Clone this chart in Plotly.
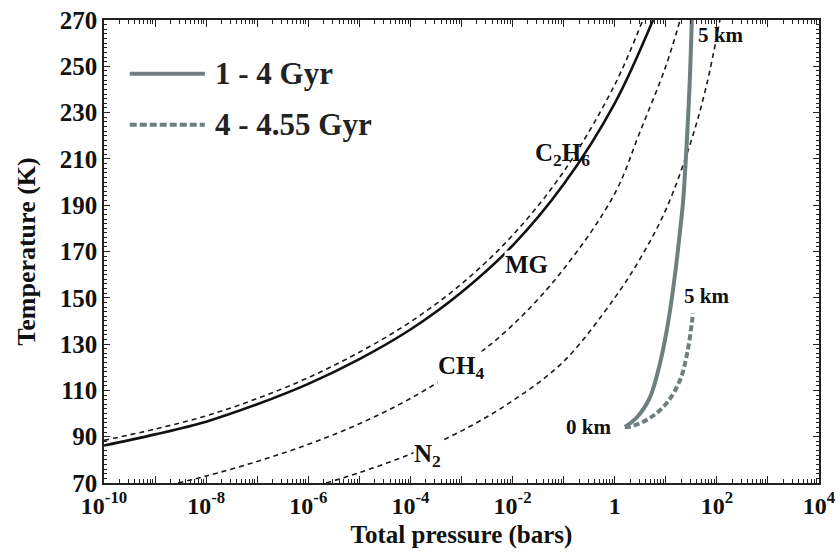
import plotly.graph_objects as go

# ---- data (log10 pressure in bars, temperature in K) ----
mg_logp = [-10, -9, -8, -7, -6, -5, -4, -3, -2, -1, 0, 0.75]
mg_T = [86.2, 91, 96.5, 104, 112.8, 123.5, 136.3, 152.4, 172.5, 199, 234, 270]

c2h6_logp = [-10, -9, -8, -7, -6, -5, -4, -3, -2, -1, 0, 0.55]
c2h6_T = [88.4, 93.3, 99, 106.5, 115.5, 126.5, 139.6, 156, 177, 204.5, 242, 270]

ch4_logp = [-8.55, -8, -7, -6, -5, -4, -3, -2, -1, 0, 0.5, 1.0, 1.28]
ch4_T = [70, 73, 79.3, 86.7, 95.6, 106.5, 120.3, 138.2, 162.4, 195, 222, 250, 270]

n2_logp = [-5.65, -5, -4, -3, -2, -1, 0, 0.5, 1.0, 1.5, 1.8, 2.06]
n2_T = [70, 74.5, 82.5, 92.5, 105.5, 122.5, 150, 167, 188, 218, 242, 270]

gyr14_logp = [0.20, 0.44, 0.69, 0.89, 1.02, 1.12, 1.20, 1.27, 1.34, 1.42, 1.47, 1.51]
gyr14_T = [94.2, 98.5, 107, 122, 136, 150, 163.5, 177, 192, 221, 244, 270]

gyr4455_logp = [0.20, 0.30, 0.69, 1.02, 1.28, 1.42, 1.51, 1.53]
gyr4455_T = [94.2, 94.3, 98.1, 104.6, 114.5, 126.2, 139.1, 143.4]

x_tick_vals = [-10, -8, -6, -4, -2, 0, 2, 4]
x_tick_text = ["10<sup>-10</sup>", "10<sup>-8</sup>", "10<sup>-6</sup>", "10<sup>-4</sup>",
               "10<sup>-2</sup>", "1", "10<sup>2</sup>", "10<sup>4</sup>"]
y_tick_vals = [70, 90, 110, 130, 150, 170, 190, 210, 230, 250, 270]

# labels: (text, log10 p, T, xanchor, size, white background)
curve_labels = [
    ("C<sub>2</sub>H<sub>6</sub>", -1.03, 212.0, "center", 25, False),
    ("MG", -1.73, 164.6, "center", 25, True),
    ("CH<sub>4</sub>", -3.0, 120.0, "center", 25, True),
    ("N<sub>2</sub>", -3.66, 82.0, "center", 25, True),
    ("0 km", -0.06, 94.3, "right", 21, False),
    ("5 km", 1.62, 263.7, "left", 21, False),
    ("5 km", 1.34, 150.9, "left", 21, False),
]
legend_names = ["1 - 4 Gyr", "4 - 4.55 Gyr"]

FONT = "Liberation Serif"
GRAY = "#6f7e7e"

def P(v):
    return [10 ** a for a in v]

fig = go.Figure()
thin = dict(color="#1a1a1a", width=1.6, dash="5px,4px", shape="spline", smoothing=1)
fig.add_trace(go.Scatter(x=P(c2h6_logp), y=c2h6_T, mode="lines", line=thin))
fig.add_trace(go.Scatter(x=P(ch4_logp), y=ch4_T, mode="lines", line=thin))
fig.add_trace(go.Scatter(x=P(n2_logp), y=n2_T, mode="lines", line=thin))
fig.add_trace(go.Scatter(x=P(mg_logp), y=mg_T, mode="lines",
                         line=dict(color="#111111", width=2.6, shape="spline", smoothing=1)))

for text, lx, ly, anchor, size, bg in curve_labels:
    fig.add_annotation(x=lx, y=ly, xref="x", yref="y", text=text, showarrow=False,
                       xanchor=anchor, yanchor="middle",
                       bgcolor="white" if bg else "rgba(0,0,0,0)", borderpad=0,
                       font=dict(family=FONT, size=size, color="#111111", weight="bold"))

fig.add_trace(go.Scatter(x=P(gyr14_logp), y=gyr14_T, mode="lines",
                         line=dict(color=GRAY, width=4, shape="spline", smoothing=1)))
fig.add_trace(go.Scatter(x=P(gyr4455_logp), y=gyr4455_T, mode="lines",
                         line=dict(color=GRAY, width=4, dash="6px,3px", shape="spline", smoothing=1)))

# legend drawn manually
leg_y = [0.884, 0.774]
dashes = ["solid", "7px,3px"]
for name, yy, d in zip(legend_names, leg_y, dashes):
    fig.add_shape(type="line", xref="paper", yref="paper", x0=0.036, x1=0.141, y0=yy, y1=yy,
                  line=dict(color=GRAY, width=4, dash=d))
    fig.add_annotation(xref="paper", yref="paper", x=0.153, y=yy, text=name, showarrow=False,
                       xanchor="left", yanchor="middle",
                       font=dict(family=FONT, size=31, color="#222222", weight="bold"))

minor_x = [10 ** d * m for d in range(-10, 4) for m in range(2, 10)]
all_decades = [10 ** d for d in range(-10, 5)]
major_text = {10 ** v: t for v, t in zip(x_tick_vals, x_tick_text)}

fig.update_layout(
    width=840, height=552,
    margin=dict(l=104, r=21, t=20, b=69),
    paper_bgcolor="white", plot_bgcolor="white",
    showlegend=False,
    font=dict(family=FONT, size=24, color="#111111", weight="bold"),
    xaxis=dict(type="log", range=[-10, 4], automargin=False,
               tickmode="array", tickvals=all_decades,
               ticktext=[major_text.get(v, "") for v in all_decades],
               ticks="inside", ticklen=7, tickcolor="#222", tickwidth=1,
               minor=dict(tickmode="array", tickvals=minor_x, ticks="inside", ticklen=4,
                          tickcolor="#222", tickwidth=1),
               showline=True, linecolor="#222", linewidth=1.5, mirror="ticks",
               showgrid=False, zeroline=False,
               tickfont=dict(family=FONT, size=24, weight="bold"),
               title=dict(text="Total pressure (bars)", standoff=8,
                          font=dict(family=FONT, size=25, weight="bold"))),
    yaxis=dict(range=[70, 270], tickmode="array", tickvals=y_tick_vals, automargin=False,
               ticks="inside", ticklen=6, tickcolor="#222", tickwidth=1,
               minor=dict(dtick=2, ticks="inside", ticklen=3, tickcolor="#222", tickwidth=1),
               showline=True, linecolor="#222", linewidth=1.5, mirror="ticks",
               showgrid=False, zeroline=False,
               tickfont=dict(family=FONT, size=25, weight="bold"),
               title=dict(text="Temperature (K)", standoff=17,
                          font=dict(family=FONT, size=26, weight="bold"))),
)

fig.write_html("out.html", config={"displayModeBar": False},
               post_script="document.body.style.margin='0';document.body.style.overflow='hidden';")
